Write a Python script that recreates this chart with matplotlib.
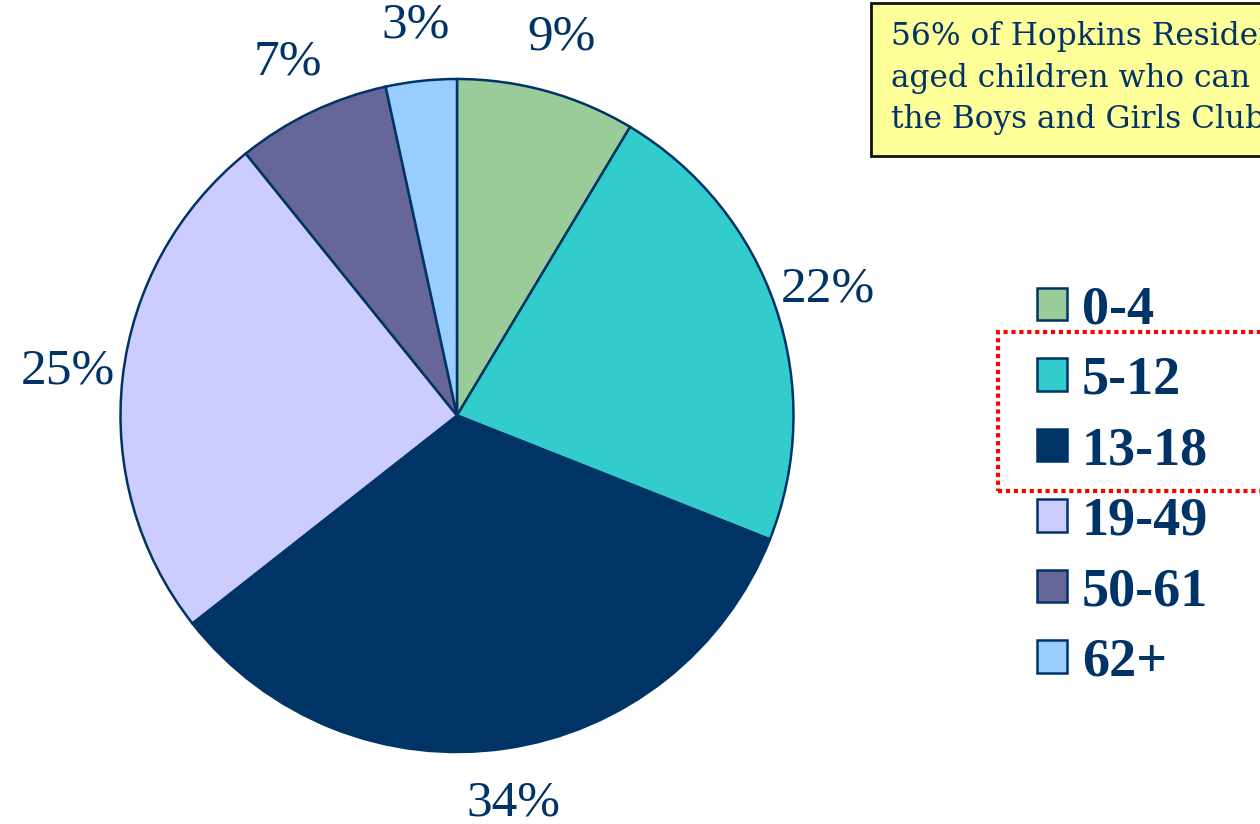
import matplotlib
matplotlib.use("Agg")
import matplotlib.pyplot as plt
from matplotlib.patches import Rectangle

categories = ["0-4", "5-12", "13-18", "19-49", "50-61", "62+"]
values = [8.6, 22.4, 33.4, 24.8, 7.4, 3.4]
pct_labels = ["9%", "22%", "34%", "25%", "7%", "3%"]
colors = ["#99CC99", "#33CCCC", "#003366", "#CCCCFF", "#666699", "#99CCFF"]
note_lines = ["56% of Hopkins Residents are school-",
              "aged children who can benefit from",
              "the Boys and Girls Club"]

navy = "#003366"
W, H = 1260, 824
fig = plt.figure(figsize=(W / 100, H / 100), dpi=100)
fig.patch.set_facecolor("white")

# pie axes: center (457, 415.5) px, radius 336.5 px
cx, cy, r = 457, 415.5, 336.5
ax = fig.add_axes([(cx - r) / W, (H - cy - r) / H, 2 * r / W, 2 * r / H])
wedges, texts = ax.pie(
    values, colors=colors, startangle=90, counterclock=False,
    labels=pct_labels, labeldistance=1.165,
    wedgeprops=dict(edgecolor=navy, linewidth=1.8),
    textprops=dict(family="Liberation Serif", fontsize=37, color=navy))
for t in texts:
    t.set_ha("center")
    t.set_va("center")
    t.set_clip_on(False)
ax.set_xlim(-1, 1)
ax.set_ylim(-1, 1)
ax.set_aspect("equal")
ax.axis("off")

# legend
fs = 39
leg = fig.legend(wedges, categories, loc="upper left",
                 bbox_to_anchor=(1037 / W, 1 - 285 / H),
                 frameon=False, handlelength=0.55, handleheight=0.55,
                 handletextpad=0.28, labelspacing=0.38, borderpad=0,
                 borderaxespad=0,
                 prop=dict(family="Liberation Serif", weight="bold", size=fs))
for txt in leg.get_texts():
    txt.set_color(navy)
for h in leg.legend_handles:
    h.set_edgecolor(navy)
    h.set_linewidth(1.8)

# red dotted box around 5-12 and 13-18
fig.patches.append(Rectangle((998 / W, 1 - 491 / H), 300 / W, 159 / H,
                             transform=fig.transFigure, fill=False,
                             edgecolor="#FF0000", linewidth=3.0,
                             linestyle=(0, (1, 0.9)), zorder=5))

# yellow note box
fig.patches.append(Rectangle((871 / W, 1 - 156 / H), 420 / W, 153 / H,
                             transform=fig.transFigure, facecolor="#FFFF99",
                             edgecolor="#111111", linewidth=2, zorder=1))
for i, yb in enumerate([45, 86.5, 128]):
    fig.text(891 / W, 1 - yb / H, note_lines[i], ha="left", va="baseline",
             family="DejaVu Serif", fontsize=22.5, color=navy, zorder=2)

fig.savefig("out.png", dpi=100)
